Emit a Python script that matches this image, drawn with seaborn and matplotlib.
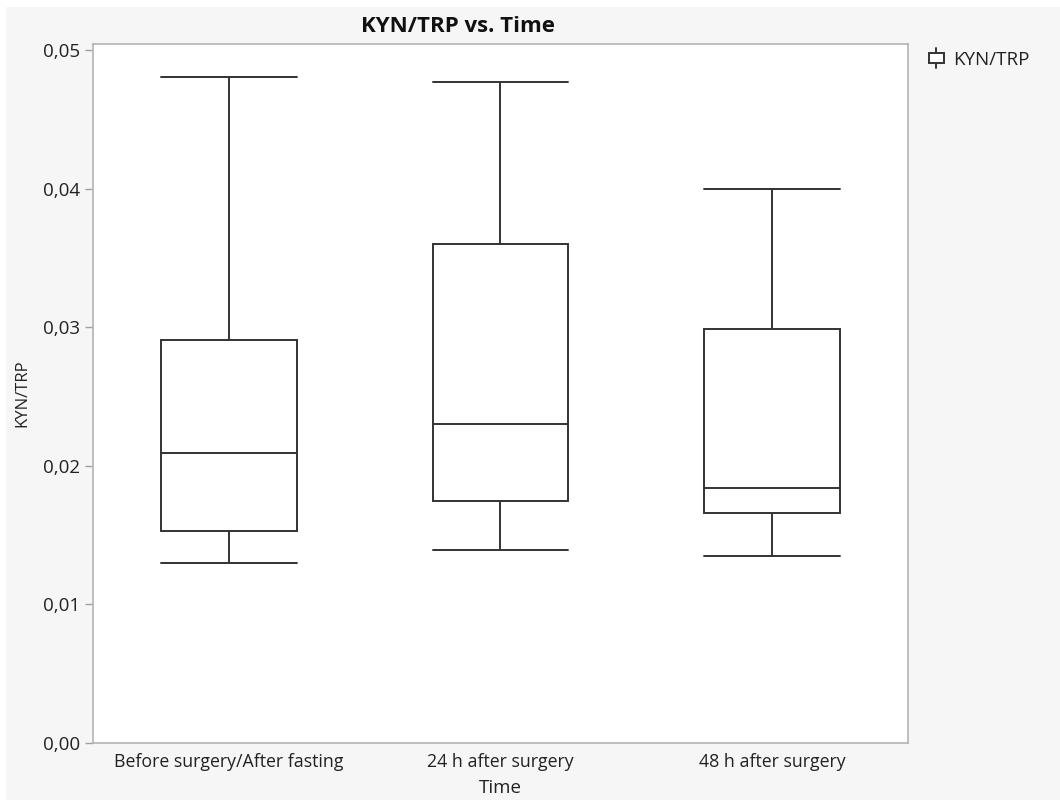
import numpy as np
import pandas as pd
import matplotlib.pyplot as plt
import seaborn as sns
from matplotlib.patches import Rectangle
from matplotlib.lines import Line2D
from matplotlib.legend_handler import HandlerBase
from matplotlib.ticker import FuncFormatter

# Five-number summaries (min, Q1, median, Q3, max)
times = ["Before surgery/After fasting", "24 h after surgery", "48 h after surgery"]
before = [0.0130, 0.0153, 0.0209, 0.0291, 0.0481]
after_24h = [0.0139, 0.0175, 0.0230, 0.0360, 0.0477]
after_48h = [0.0135, 0.0166, 0.0184, 0.0299, 0.0400]
yticks = [0.00, 0.01, 0.02, 0.03, 0.04, 0.05]

df = pd.DataFrame({
    "Time": np.repeat(times, 5),
    "KYN/TRP": before + after_24h + after_48h,
})

sns.set_theme(style="white")
plt.rcParams["font.family"] = ["Open Sans", "DejaVu Sans"]

line_col = "#333333"
txt_col = "#222222"


class BoxIcon(HandlerBase):
    # tiny vertical box-and-whisker glyph for the legend
    def create_artists(self, legend, orig_handle, xdescent, ydescent,
                       width, height, fontsize, trans):
        x0, y0 = -xdescent, -ydescent
        cx = x0 + width / 2
        stem = Line2D([cx, cx], [y0 - 0.45 * height, y0 + 1.45 * height],
                      color=line_col, linewidth=1.4, transform=trans)
        box = Rectangle((x0, y0), width, height, facecolor="white",
                        edgecolor=line_col, linewidth=1.4, transform=trans)
        return [stem, box]


fig = plt.figure(figsize=(10.6, 8), dpi=100, facecolor="white")
fig.patches.append(Rectangle((6 / 1060, 0), 1, 1 - 7 / 800, transform=fig.transFigure,
                             facecolor="#f6f6f6", edgecolor="none", zorder=-10))
ax = fig.add_axes([93 / 1060, 1 - 743 / 800, (908 - 93) / 1060, (743 - 44) / 800])
ax.set_facecolor("white")

sns.boxplot(data=df, x="Time", y="KYN/TRP", order=times, ax=ax, whis=(0, 100),
            width=0.5, color="white", linecolor=line_col, linewidth=1.4,
            saturation=1, showfliers=False)

# caps as wide as the box
for ln in ax.lines:
    x = np.asarray(ln.get_xdata(), dtype=float)
    y = np.asarray(ln.get_ydata(), dtype=float)
    if len(x) == 2 and y[0] == y[1] and x[0] != x[1]:
        mid = x.mean()
        ln.set_xdata([mid - 0.25, mid + 0.25])
    ln.set_color(line_col)

ax.set_xlim(-0.5, 2.5)
ax.set_ylim(0, 0.05045)
ax.set_yticks(yticks)
ax.yaxis.set_major_formatter(FuncFormatter(lambda v, p: f"{v:.2f}".replace(".", ",")))

for s in ax.spines.values():
    s.set_color("#b4b4b4")
    s.set_linewidth(1.2)
ax.tick_params(axis="y", left=True, length=6, width=1, color="#a0a0a0",
               labelsize=13.5, labelcolor=txt_col, pad=3)
ax.tick_params(axis="x", bottom=False, labelsize=12.8, labelcolor=txt_col, pad=1)

ax.set_xlabel("Time", fontsize=13.5, color=txt_col, labelpad=6)
ax.set_ylabel("KYN/TRP", fontsize=12, color=txt_col, labelpad=9)
fig.text(458 / 1060, 1 - 27 / 800, "KYN/TRP vs. Time", ha="center", va="center",
         fontsize=16, fontweight="bold", color="#111111")

ax.legend([object()], ["KYN/TRP"], handler_map={object: BoxIcon()},
          loc="upper left", bbox_to_anchor=(912 / 1060, 1 - 34 / 800),
          bbox_transform=fig.transFigure, frameon=False, fontsize=13.5,
          handlelength=0.8, handleheight=0.48, handletextpad=0.5, labelcolor=txt_col)

fig.savefig("out.png", dpi=100, facecolor=fig.get_facecolor())
